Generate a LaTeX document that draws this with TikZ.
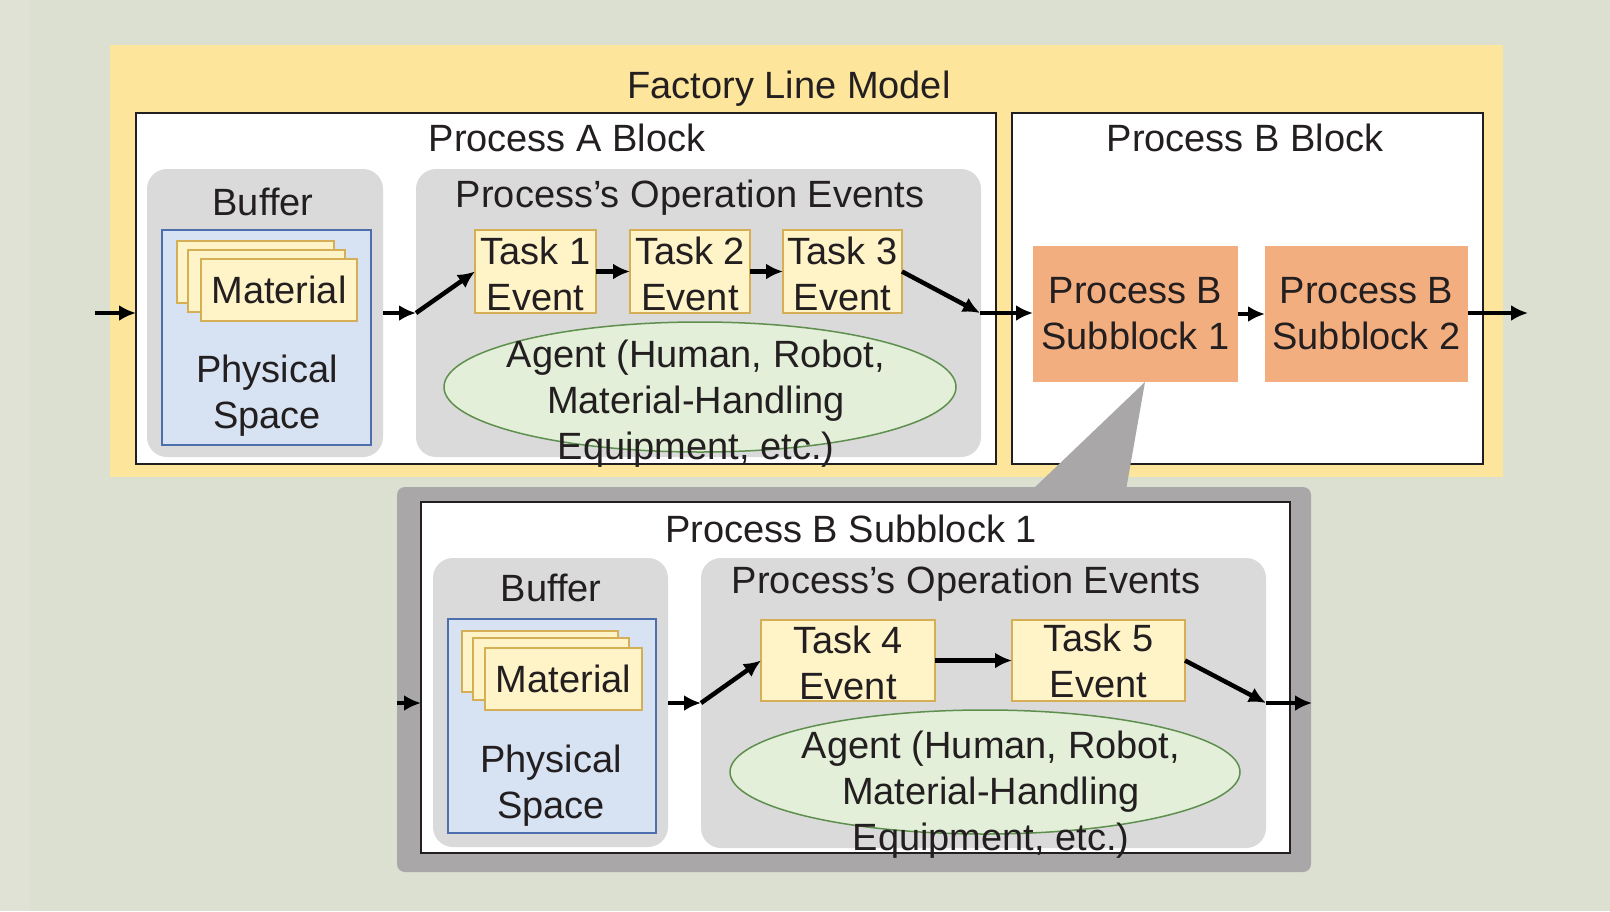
\documentclass[tikz,border=0pt]{standalone}
\usepackage{fontspec}
\setmainfont{Liberation Sans}
\usetikzlibrary{arrows.meta,shapes.geometric,calc}
\definecolor{bgc}{HTML}{DCE0D1}
\definecolor{bgl}{HTML}{DFE2D5}
\definecolor{yel}{HTML}{FDE59C}
\definecolor{pan}{HTML}{DADADA}
\definecolor{bluef}{HTML}{D7E2F2}
\definecolor{blued}{HTML}{4D6FAE}
\definecolor{taskf}{HTML}{FFF3C8}
\definecolor{taskd}{HTML}{D6AE55}
\definecolor{ellf}{HTML}{E3EFD8}
\definecolor{elld}{HTML}{5E8F4E}
\definecolor{orng}{HTML}{F3AE80}
\definecolor{frm}{HTML}{A9A7A8}
\definecolor{ink}{HTML}{231F20}
\newcommand\tup{\rule{0pt}{33pt}}
\tikzset{
  txt/.style={font=\fontsize{38}{46}\selectfont, text=ink, inner sep=0pt, align=center},
  shp/.style={inner sep=0pt, outer sep=0pt},
  whitebox/.style={shp, draw=ink, line width=2pt, fill=white},
  panel/.style={shp, fill=pan, rounded corners=20pt},
  bluebox/.style={shp, draw=blued, line width=2pt, fill=bluef},
  matbox/.style={shp, draw=taskd, line width=2pt, fill=taskf},
  taskbox/.style={matbox, txt},
  agent/.style={shp, ellipse, draw=elld, line width=1.5pt, fill=ellf},
  subbox/.style={shp, fill=orng, txt},
  arr/.style={line width=4.5pt, draw=black, -{Latex[length=17pt,width=16pt]}},
}
\begin{document}
\begin{tikzpicture}[x=1pt,y=-1pt]
% background
\fill[bgc] (0,0) rectangle (1610,911);
\fill[bgl] (0,0) rectangle (30,911);
\useasboundingbox (0,0) rectangle (1610,911);

% factory line model
\node[shp, fill=yel, minimum width=1393pt, minimum height=432pt] (factory) at (806.5,261) {};
\node[txt, anchor=base] (factoryT) at (789,98) {Factory Line Model};

% process A
\node[whitebox, minimum width=860pt, minimum height=351pt] (procA) at (566,288.5) {};
\node[txt, anchor=base] (procAT) at (567,151) {Process A Block};
\node[panel, minimum width=236pt, minimum height=288pt] (bufA) at (265,313) {};
\node[txt, anchor=base] (bufAT) at (263,215) {Buffer};
\node[bluebox, minimum width=209pt, minimum height=215pt] (blueA) at (266.5,337.5) {};
\node[matbox, minimum width=157pt, minimum height=62pt] (matA1) at (255.5,272) {};
\node[matbox, minimum width=157pt, minimum height=62pt] (matA2) at (266.5,281) {};
\node[matbox, txt, minimum width=156pt, minimum height=62pt] (matA3) at (279,290) {Material};
\node[txt] (physA) at (267,395.4) {Physical\\Space};
\node[panel, minimum width=565pt, minimum height=288pt] (opsA) at (698.5,313) {};
\node[txt, anchor=base] (opsAT) at (690,207) {Process’s Operation Events};
\node[taskbox, minimum width=121pt, minimum height=83pt] (t1) at (535.5,271.5) {\tup Task 1\\Event};
\node[taskbox, minimum width=120pt, minimum height=83pt] (t2) at (690,271.5) {\tup Task 2\\Event};
\node[taskbox, minimum width=119pt, minimum height=83pt] (t3) at (842.5,271.5) {\tup Task 3\\Event};
\node[agent, minimum width=512pt, minimum height=130pt] (agA) at (700,387) {};
\node[txt] (agAT) at (696,404) {Agent (Human, Robot,\\Material-Handling\\Equipment, etc.)};

% process B
\node[whitebox, minimum width=471pt, minimum height=351pt] (procB) at (1247.5,288.5) {};
\node[txt, anchor=base] (procBT) at (1245,151) {Process B Block};
\node[subbox, minimum width=205pt, minimum height=136pt] (s1) at (1135.5,314) {Process B\\Subblock 1};
\node[subbox, minimum width=203pt, minimum height=136pt] (s2) at (1366.5,314) {Process B\\Subblock 2};

% top arrows
\coordinate (inA) at (95,313);
\coordinate (t3end) at (980,313);
\coordinate (outA) at (1528,313);
\draw[arr] (inA) -- (procA.west |- inA);
\draw[arr] (bufA.east |- inA) -- (opsA.west |- inA);
\draw[arr] (opsA.west |- inA) -- (t1.west);
\draw[arr] (t1) -- (t2);
\draw[arr] (t2) -- (t3);
\draw[arr] (t3.east) -- (t3end);
\draw[arr] (t3end) -- (s1.west |- t3end);
\draw[arr] (s1) -- (s2);
\draw[arr] (s2.east |- outA) -- (outA);

% callout
\coordinate (cTop) at (1145,382);
\coordinate (cL) at (1032,490);
\coordinate (cR) at (1126,490);
\fill[frm] (cTop) -- (cL) -- (cR) -- cycle;

% subblock detail
\node[shp, fill=frm, rounded corners=8pt, minimum width=914pt, minimum height=385pt] (frameB) at (854,679.5) {};
\node[whitebox, minimum width=869pt, minimum height=351pt] (subB) at (855.5,677.5) {};
\node[txt, anchor=base] (subBT) at (851,542) {Process B Subblock 1};
\node[panel, minimum width=235pt, minimum height=289pt] (bufB) at (550.5,702.5) {};
\node[txt, anchor=base] (bufBT) at (551,601) {Buffer};
\node[bluebox, minimum width=208pt, minimum height=214pt] (blueB) at (552,726) {};
\node[matbox, minimum width=156pt, minimum height=61pt] (matB1) at (540,661.5) {};
\node[matbox, minimum width=156pt, minimum height=62pt] (matB2) at (551,669) {};
\node[matbox, txt, minimum width=157pt, minimum height=62pt] (matB3) at (563.5,679) {Material};
\node[txt] (physB) at (551,785.4) {Physical\\Space};
\node[panel, minimum width=565pt, minimum height=290pt] (opsB) at (983.5,703) {};
\node[txt, anchor=base] (opsBT) at (966,593) {Process’s Operation Events};
\node[taskbox, minimum width=174pt, minimum height=81pt] (t4) at (848,660.5) {\tup Task 4\\Event};
\node[taskbox, minimum width=173pt, minimum height=81pt] (t5) at (1098.5,660.5) {Task 5\\Event};
\node[agent, minimum width=510pt, minimum height=124pt] (agB) at (985,772) {};
\node[txt] (agBT) at (991,795) {Agent (Human, Robot,\\Material-Handling\\Equipment, etc.)};

% bottom arrows
\coordinate (inB) at (397,703);
\coordinate (t5end) at (1266,703);
\coordinate (outB) at (1312,703);
\draw[arr] (inB) -- (subB.west |- inB);
\draw[arr] (bufB.east |- inB) -- (opsB.west |- inB);
\draw[arr] (opsB.west |- inB) -- (t4.west);
\draw[arr] (t4) -- (t5);
\draw[arr] (t5.east) -- (t5end);
\draw[arr] (t5end) -- (outB);
\end{tikzpicture}
\end{document}
